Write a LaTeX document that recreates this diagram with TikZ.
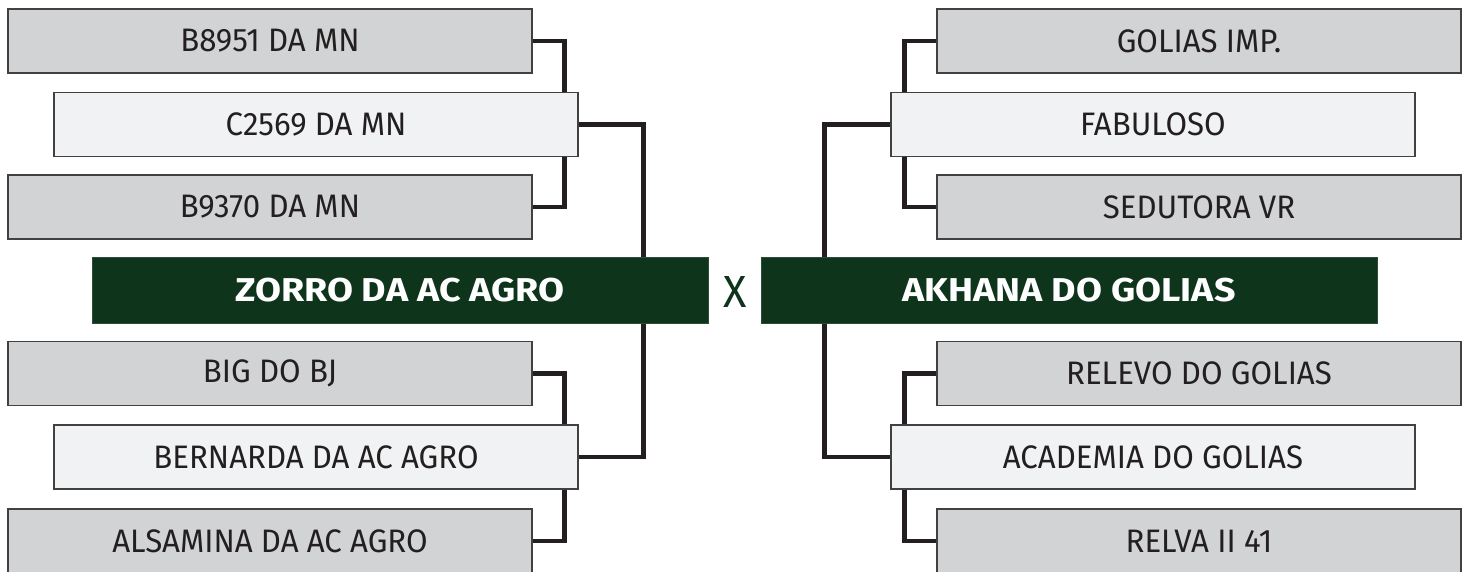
\documentclass[tikz,border=0pt]{standalone}
\usepackage{fontspec}
\setmainfont{Fira Sans}
\newfontfamily\namefont[FakeStretch=0.96]{Fira Sans}
\newfontfamily\champfont[FakeStretch=1.14]{Fira Sans}
\usetikzlibrary{positioning,backgrounds}
\definecolor{boxgray}{HTML}{D1D3D4}
\definecolor{boxlight}{HTML}{F1F2F3}
\definecolor{boxline}{HTML}{414042}
\definecolor{linkblack}{HTML}{231F20}
\definecolor{finalgreen}{HTML}{0E351B}

\begin{document}
\begin{tikzpicture}[x=1pt,y=-1pt,
horsebox/.style={draw=boxline,line width=1.3pt,minimum width=524pt,minimum height=64pt,inner sep=0pt,text=linkblack,font=\namefont\fontsize{32.5}{32.5}\selectfont},
sidebox/.style={horsebox,fill=boxgray},
sirebox/.style={horsebox,fill=boxlight},
champbox/.style={fill=finalgreen,draw=finalgreen!70!gray,line width=0.8pt,minimum width=616pt,minimum height=66pt,inner sep=0pt,text=white,font=\champfont\bfseries\fontsize{33}{33}\selectfont},
link/.style={draw=linkblack,line width=4.6pt,line join=miter}]
\useasboundingbox (0,0) rectangle (1469,572);
% left bracket
\node[sidebox] (lsire1) at (270,41) {B8951 DA MN};
\node[sirebox] (lsire) at (316,124.5) {C2569 DA MN};
\node[sidebox] (ldam1) at (270,207) {B9370 DA MN};
\node[champbox] (lchamp) at (400,290) {ZORRO DA AC AGRO};
\node[sidebox] (lsire2) at (270,373.5) {BIG DO BJ};
\node[sirebox] (ldam) at (316,457) {BERNARDA DA AC AGRO};
\node[sidebox] (ldam2) at (270,541) {ALSAMINA DA AC AGRO};
% right bracket
\node[sidebox] (rsire1) at (1199,41) {GOLIAS IMP.};
\node[sirebox] (rsire) at (1153,124.5) {FABULOSO};
\node[sidebox] (rdam1) at (1199,207) {SEDUTORA VR};
\node[champbox] (rchamp) at (1069,290) {AKHANA DO GOLIAS};
\node[sidebox] (rsire2) at (1199,373.5) {RELEVO DO GOLIAS};
\node[sirebox] (rdam) at (1153,457) {ACADEMIA DO GOLIAS};
\node[sidebox] (rdam2) at (1199,541) {RELVA II 41};
\node[text=finalgreen,inner sep=0pt,font=\namefont\fontsize{45}{45}\selectfont] (versus) at (735,292) {X};
\begin{scope}[on background layer]
\draw[link] (lsire1.east) -- ++(32,0) |- (ldam1.east);
\draw[link] (lsire2.east) -- ++(32,0) |- (ldam2.east);
\draw[link] (lsire.east) -- ++(65,0) |- (ldam.east);
\draw[link] (rsire1.west) -- ++(-32,0) |- (rdam1.west);
\draw[link] (rsire2.west) -- ++(-32,0) |- (rdam2.west);
\draw[link] (rsire.west) -- ++(-66,0) |- (rdam.west);
\end{scope}
\end{tikzpicture}
\end{document}
